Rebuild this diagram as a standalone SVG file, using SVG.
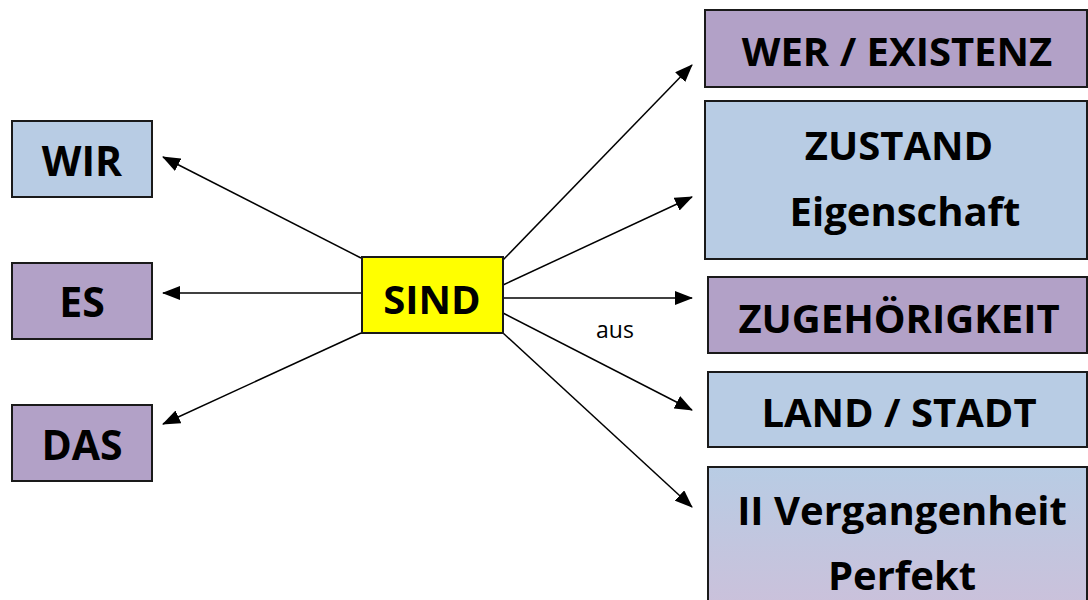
<svg xmlns="http://www.w3.org/2000/svg" width="1088" height="600" viewBox="0 0 1088 600">
  <style>
    .box { stroke: #1a1a1a; stroke-width: 2; }
    .purple { fill: #b2a1c7; }
    .blue { fill: #b8cce4; }
    .yellow { fill: #ffff00; }
    .label { font-family: "Open Sans", "Noto Sans", sans-serif; font-weight: bold; fill: #000; text-anchor: middle; }
    .big { font-size: 40px; }
    .side { font-size: 41px; }
    .edge { stroke: #000; stroke-width: 1.5; fill: none; marker-end: url(#arrow); }
    .note { font-family: "Open Sans", "Noto Sans", sans-serif; font-size: 23px; fill: #000; text-anchor: middle; }
  </style>
  <defs>
    <marker id="arrow" markerWidth="18" markerHeight="14" refX="17" refY="7" orient="auto" markerUnits="userSpaceOnUse">
      <path d="M0,0 L18,7 L0,14 Z" fill="#000"/>
    </marker>
    <linearGradient id="fadeBluePurple" x1="0" y1="0" x2="0" y2="1">
      <stop offset="0" stop-color="#b8cce4"/>
      <stop offset="1" stop-color="#ccc0da"/>
    </linearGradient>
  </defs>

  <rect width="1088" height="600" fill="#ffffff"/>

  <!-- connectors -->
  <g id="connectors">
    <line class="edge" x1="361" y1="258" x2="163" y2="157"/>
    <line class="edge" x1="361" y1="293" x2="163" y2="293"/>
    <line class="edge" x1="361" y1="333" x2="163" y2="424"/>
    <line class="edge" x1="503" y1="260" x2="692" y2="65"/>
    <line class="edge" x1="503" y1="285" x2="692" y2="197"/>
    <line class="edge" x1="503" y1="298" x2="692" y2="298"/>
    <line class="edge" x1="503" y1="313" x2="692" y2="410"/>
    <line class="edge" x1="503" y1="333" x2="692" y2="507"/>
    <text class="note" x="615" y="338">aus</text>
  </g>

  <!-- centre -->
  <g id="node-sind">
    <rect class="box yellow" x="362" y="257" width="141" height="76"/>
    <text class="label" style="font-size:40px" x="432" y="314">SIND</text>
  </g>

  <!-- left column -->
  <g id="node-wir">
    <rect class="box blue" x="12" y="121" width="140" height="76"/>
    <text class="label side" x="82" y="176">WIR</text>
  </g>
  <g id="node-es">
    <rect class="box purple" x="12" y="263" width="140" height="76"/>
    <text class="label side" x="82" y="317">ES</text>
  </g>
  <g id="node-das">
    <rect class="box purple" x="12" y="405" width="140" height="76"/>
    <text class="label side" x="82" y="460">DAS</text>
  </g>

  <!-- right column -->
  <g id="node-wer">
    <rect class="box purple" x="705" y="10" width="382" height="77"/>
    <text class="label big" x="897" y="66">WER / EXISTENZ</text>
  </g>
  <g id="node-zustand">
    <rect class="box blue" x="705" y="101" width="382" height="158"/>
    <text class="label big" x="899" y="160">ZUSTAND</text>
    <text class="label big" x="905" y="226">Eigenschaft</text>
  </g>
  <g id="node-zugehoerigkeit">
    <rect class="box purple" x="708" y="277" width="379" height="76"/>
    <text class="label big" x="899" y="333">ZUGEHÖRIGKEIT</text>
  </g>
  <g id="node-land">
    <rect class="box blue" x="708" y="372" width="379" height="75"/>
    <text class="label big" x="899" y="427">LAND / STADT</text>
  </g>
  <g id="node-perfekt">
    <rect class="box" fill="url(#fadeBluePurple)" x="708" y="467" width="379" height="150"/>
    <text class="label big" x="902" y="525">II Vergangenheit</text>
    <text class="label big" x="902" y="590">Perfekt</text>
  </g>
</svg>
